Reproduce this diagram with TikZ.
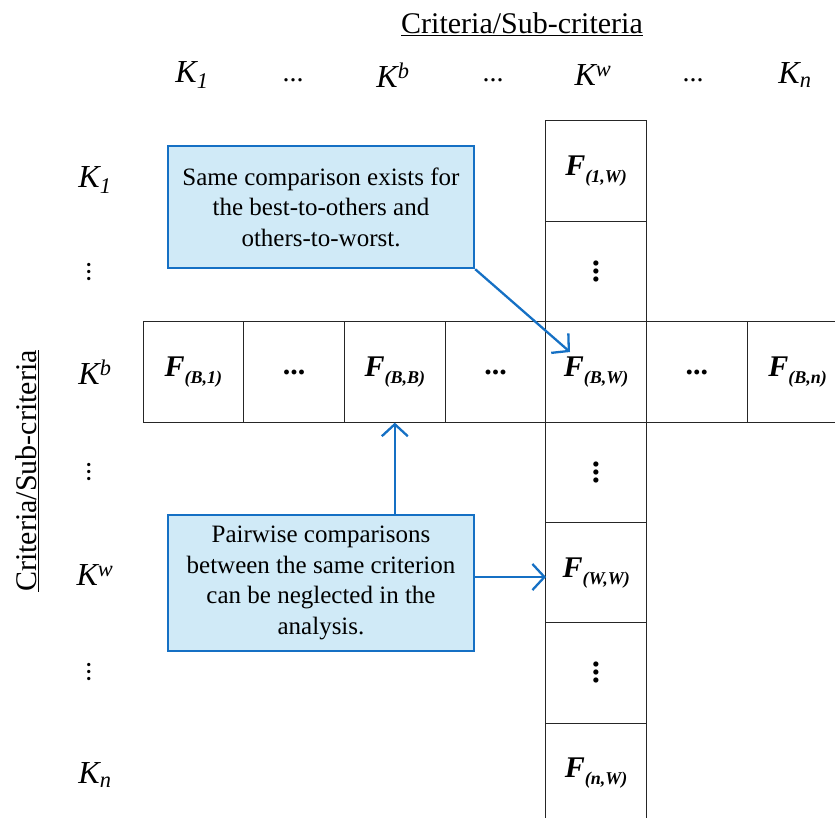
\documentclass[tikz,border=0pt]{standalone}
\usepackage{fontspec}
\setmainfont{Liberation Serif}
\usetikzlibrary{arrows.meta,calc}
\definecolor{boxblue}{RGB}{21,112,196}
\definecolor{boxfill}{RGB}{208,234,247}
\newcommand{\Fcell}[1]{\textbf{\textit{\fontsize{30}{30}\selectfont F\raisebox{-7pt}{\fontsize{18}{18}\selectfont #1}}}}
\tikzset{
  cell/.style={draw=black!85, line width=1pt, minimum width=100.7pt, minimum height=100.3pt, inner sep=0pt, anchor=center,
    font=\fontsize{30}{30}\selectfont\bfseries},
  hdr/.style={font=\fontsize{32}{34}\selectfont\itshape, inner sep=0pt},
  hdots/.style={font=\fontsize{28}{30}\selectfont, inner sep=0pt},
  title/.style={font=\fontsize{30}{32}\selectfont, inner sep=0pt},
  note/.style={draw=boxblue, fill=boxfill, line width=2.4pt, align=center, inner sep=0pt,
    font=\fontsize{25}{30.5}\selectfont},
  conn/.style={draw=boxblue, line width=2.3pt, -{Straight Barb[length=12pt,width=26pt,line width=2.3pt]}},
  celldots/.style={font=\fontsize{32}{32}\selectfont\bfseries, inner sep=0pt}
}
\begin{document}
\begin{tikzpicture}[x=1pt,y=-1pt]
\useasboundingbox (0,0) rectangle (835,817);
% titles
\node[title] (ttop) at (522,24) {\underline{Criteria/Sub-criteria}};
\node[title, rotate=90] (tleft) at (27,471) {\underline{Criteria/Sub-criteria}};
% column headers
\node[hdr] (h1) at (192,75) {K\textsubscript{1}};
\node[hdots] (h2) at (293,80) {...};
\node[hdr] (h3) at (393,75) {K\textsuperscript{b}};
\node[hdots] (h4) at (493,80) {...};
\node[hdr] (h5) at (593,75) {K\textsuperscript{w}};
\node[hdots] (h6) at (693,80) {...};
\node[hdr] (h7) at (795,75) {K\textsubscript{n}};
% row headers
\node[hdr] (v1) at (95,180) {K\textsubscript{1}};
\node[hdots, rotate=90] (v2) at (89,272) {...};
\node[hdr] (v3) at (95,372) {K\textsuperscript{b}};
\node[hdots, rotate=90] (v4) at (89,472) {...};
\node[hdr] (v5) at (95,575) {K\textsuperscript{w}};
\node[hdots, rotate=90] (v6) at (89,672) {...};
\node[hdr] (v7) at (95,775) {K\textsubscript{n}};
% row of best criterion
\node[cell] (b1) at (193.4,372) {\Fcell{(B,1)}};
\node[cell] (b2) at (294.1,372) {...};
\node[cell] (bb) at (394.8,372) {\Fcell{(B,B)}};
\node[cell] (b4) at (495.5,372) {...};
\node[cell] (bw) at (596.2,372) {\Fcell{(B,W)}};
\node[cell] (b6) at (696.9,372) {...};
\node[cell] (bn) at (797.6,372) {\Fcell{(B,n)}};
% column of worst criterion
\node[cell] (w1) at (596.2,171.1) {\Fcell{(1,W)}};
\node[cell] (w2) at (596.2,271.5) {};
\node[celldots, rotate=90] (w2d) at (w2.center) {...};
\node[cell] (w4) at (596.2,472.3) {};
\node[celldots, rotate=90] (w4d) at (w4.center) {...};
\node[cell] (ww) at (596.2,572.6) {\Fcell{(W,W)}};
\node[cell] (w6) at (596.2,672.9) {};
\node[celldots, rotate=90] (w6d) at (w6.center) {...};
\node[cell] (wn) at (596.2,773.2) {\Fcell{(n,W)}};
% notes
\node[note, minimum width=306pt, minimum height=122pt] (n1) at (321,207)
  {Same comparison exists for\\the best-to-others and\\others-to-worst.};
\node[note, minimum width=306pt, minimum height=136pt] (n2) at (321,583)
  {Pairwise comparisons\\between the same criterion\\can be neglected in the\\analysis.};
% connectors
\coordinate (tipbw) at (570,352);
\coordinate (tipww) at (546,577);
\draw[conn] (n1.south east) -- (tipbw);
\draw[conn] (n2.north -| bb.south) -- (bb.south);
\draw[conn] (n2.east |- tipww) -- (tipww);
\end{tikzpicture}
\end{document}
